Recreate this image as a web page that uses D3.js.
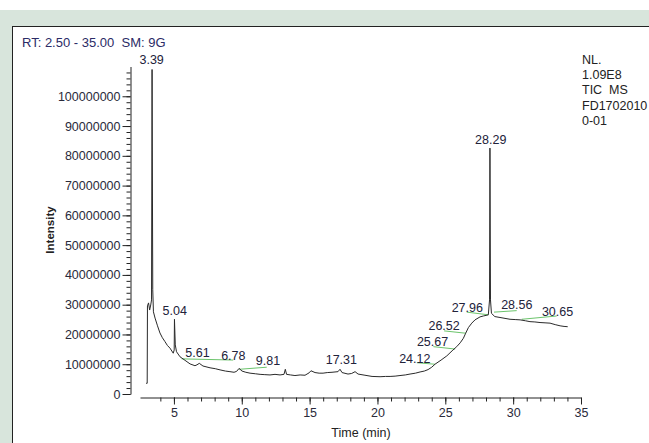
<!DOCTYPE html>
<html>
<head>
<meta charset="utf-8">
<script src="https://cdn.jsdelivr.net/npm/d3@7"></script>
<style>
  body { margin: 0; background: #fff; }
  svg text { font-family: "Liberation Sans", Arial, sans-serif; white-space: pre; }
</style>
</head>
<body>
<svg id="chart" width="649" height="443"></svg>
<script>
// retention time (min) and TIC intensity
const timeMin = [2.95, 3.03, 3.05, 3.13, 3.21, 3.29, 3.35, 3.39, 3.44, 3.49, 3.61, 3.79, 3.97, 4.15, 4.34, 4.52, 4.71, 4.95, 5.02, 5.04, 5.10, 5.19,
  5.45, 5.82, 6.19, 6.55, 6.70, 6.87, 7.14, 7.66, 8.05, 8.40, 8.80, 9.13, 9.43, 9.62, 9.80, 10.02, 10.30, 10.61, 11.00, 11.35, 11.70, 12.08,
  12.45, 12.82, 13.11, 13.21, 13.30, 13.60, 13.92, 14.30, 14.66, 14.96, 15.10, 15.40, 15.70, 15.99, 16.30, 16.65, 17.09, 17.24, 17.39,
  17.83, 18.10, 18.35, 18.57, 19.08, 19.60, 20.19, 20.60, 20.93, 21.30, 21.66, 22.05, 22.40, 22.80, 23.14, 23.45, 23.73, 24.00, 24.24,
  24.69, 25.11, 25.50, 25.84, 26.10, 26.33, 26.50, 26.70, 26.95, 27.19, 27.56, 27.80, 28.00, 28.17, 28.26, 28.29, 28.33, 28.40, 28.65,
  29.03, 29.40, 29.77, 30.15, 30.51, 30.90, 31.24, 31.60, 31.98, 32.35, 32.72, 33.10, 33.46, 33.75, 34.02];
const intensity = [3.6e6, 3.6e6, 29.6e6, 30.6e6, 28.2e6, 29.9e6, 31.6e6, 109e6, 35e6, 27.6e6, 25.5e6, 22.9e6, 20.5e6, 18.9e6, 17.6e6, 16.3e6, 15.4e6, 13.7e6, 14.8e6, 25.1e6, 16.5e6, 14.2e6,
  12.5e6, 11.3e6, 10.1e6, 9.5e6, 9.8e6, 10.3e6, 9.4e6, 8.8e6, 8.5e6, 8.1e6, 7.7e6, 7.5e6, 7.3e6, 7.6e6, 8.6e6, 7.7e6, 7.3e6, 7.0e6, 6.8e6, 6.6e6, 6.5e6, 6.4e6,
  6.6e6, 6.4e6, 6.6e6, 8.3e6, 6.6e6, 6.4e6, 6.2e6, 6.4e6, 6.3e6, 7.1e6, 7.8e6, 7.2e6, 7.0e6, 7.0e6, 7.2e6, 7.3e6, 7.5e6, 8.3e6, 7.2e6,
  6.7e6, 6.9e6, 7.5e6, 6.7e6, 6.3e6, 5.9e6, 5.8e6, 5.9e6, 5.9e6, 6.0e6, 6.2e6, 6.4e6, 6.7e6, 7.0e6, 7.4e6, 7.7e6, 8.2e6, 9.0e6, 10.0e6,
  11.4e6, 12.8e6, 14.5e6, 15.9e6, 17.2e6, 18.7e6, 20.4e6, 22.3e6, 23.8e6, 24.9e6, 25.9e6, 26.2e6, 26.4e6, 26.6e6, 31.6e6, 82.6e6, 31.6e6, 27.1e6, 26.0e6,
  25.7e6, 25.4e6, 25.1e6, 25.0e6, 24.9e6, 24.6e6, 24.3e6, 24.2e6, 24.0e6, 23.9e6, 23.8e6, 23.3e6, 22.9e6, 22.7e6, 22.6e6];

// peak annotations: label text and where it sits (time, intensity)
const peakLabels = ["3.39", "5.04", "5.61", "6.78", "9.81", "17.31", "24.12", "25.67", "26.52", "27.96", "28.29", "28.56", "30.65"];
const labelTime = [3.36, 5.06, 6.74, 9.38, 11.93, 17.34, 22.75, 24.06, 24.91, 26.62, 28.35, 30.27, 33.27];
const labelInt = [112.3e6, 28.0e6, 14.0e6, 12.8e6, 11.1e6, 11.7e6, 12.0e6, 17.6e6, 22.9e6, 29.1e6, 85.6e6, 29.9e6, 27.7e6];

// integration baselines [t0, i0, t1, i1]
const baselines = [
  [5.57, 11.8e6, 9.37, 11.4e6],
  [9.82, 8.3e6, 11.84, 9.0e6],
  [22.90, 10.5e6, 24.24, 10.0e6],
  [24.12, 15.9e6, 25.72, 15.1e6],
  [24.91, 21.2e6, 26.53, 20.4e6],
  [26.58, 27.5e6, 28.17, 26.6e6],
  [28.59, 27.5e6, 30.26, 28.0e6],
  [30.63, 25.1e6, 33.21, 26.2e6]
];

const xTicks = [5, 10, 15, 20, 25, 30, 35];
const xMinorTicks = d3.range(4, 35);
const yTicks = [0, 10e6, 20e6, 30e6, 40e6, 50e6, 60e6, 70e6, 80e6, 90e6, 100e6];
const yTickLabels = ["0", "10000000", "20000000", "30000000", "40000000", "50000000", "60000000", "70000000", "80000000", "90000000", "100000000"];
const yMinorTicks = d3.range(0, 110e6, 2e6);

const headerLines = ["NL.", "1.09E8", "TIC  MS", "FD1702010", "0-01"];

const svg = d3.select("#chart");

// page background + white panel
svg.append("rect").attr("x", 0).attr("y", 10).attr("width", 649).attr("height", 433).attr("fill", "#d8e5dc");
svg.append("rect").attr("x", 12.5).attr("y", 26.5).attr("width", 645).attr("height", 425)
  .attr("fill", "#fff").attr("stroke", "#222").attr("stroke-width", 1);

let xScale = d3.scaleLinear().domain([2.5, 35]).range([140, 581]);
let yScale = d3.scaleLinear().domain([0, 110e6]).range([394, 66.5]);

// y axis
svg.append("g")
  .attr("transform", "translate(130.5,0)")
  .call(d3.axisLeft(yScale).tickValues(yTicks).tickSize(8).tickSizeOuter(0).tickPadding(2)
    .tickFormat((d, i) => yTickLabels[i]));
svg.append("g")
  .attr("transform", "translate(130.5,0)")
  .call(d3.axisLeft(yScale).tickValues(yMinorTicks).tickSize(4).tickFormat(""))
  .select(".domain").remove();

// x axis
svg.append("g")
  .attr("transform", "translate(0,397.5)")
  .call(d3.axisBottom(xScale).tickValues(xTicks).tickSize(7).tickSizeOuter(0).tickPadding(4));
svg.append("g")
  .attr("transform", "translate(0,397.5)")
  .call(d3.axisBottom(xScale).tickValues(xMinorTicks).tickSize(4).tickFormat(""))
  .select(".domain").remove();

svg.selectAll(".tick text").attr("font-size", "12.5px").attr("fill", "#2a2a3a")
  .attr("font-family", "Liberation Sans, Arial, sans-serif");
svg.selectAll(".domain, .tick line").attr("stroke", "#222");

// axis titles
svg.append("text")
  .attr("x", 361).attr("y", 437)
  .attr("text-anchor", "middle")
  .attr("font-size", "12.5px").attr("fill", "#222")
  .text("Time (min)");
svg.append("text")
  .attr("transform", "translate(54,230)rotate(-90)")
  .attr("text-anchor", "middle")
  .attr("font-size", "11.5px").attr("font-weight", "bold").attr("fill", "#222")
  .text("Intensity");

// header texts
svg.append("text")
  .attr("x", 22).attr("y", 46.5)
  .attr("font-size", "13px").attr("fill", "#2b2b66")
  .text("RT: 2.50 - 35.00  SM: 9G");
svg.selectAll(".hdr")
  .data(headerLines)
  .enter()
  .append("text")
    .attr("class", "hdr")
    .attr("x", 582)
    .attr("y", (d, i) => 64 + i * 15.2)
    .attr("font-size", "12.5px").attr("fill", "#222")
    .text(d => d);

// integration baselines
svg.selectAll(".base")
  .data(baselines)
  .enter()
  .append("line")
    .attr("class", "base")
    .attr("x1", d => xScale(d[0])).attr("y1", d => yScale(d[1]))
    .attr("x2", d => xScale(d[2])).attr("y2", d => yScale(d[3]))
    .attr("stroke", "#6cc46c").attr("stroke-width", 1);

// chromatogram trace
let points = timeMin.map((t, i) => [t, intensity[i]]);
let valueLine = d3.line()
  .x(d => xScale(d[0]))
  .y(d => yScale(d[1]));
svg.append("path")
  .attr("d", valueLine(points))
  .attr("fill", "none")
  .attr("stroke", "#2a2a2a")
  .attr("stroke-width", 1);

// peak labels
svg.selectAll(".peak")
  .data(peakLabels)
  .enter()
  .append("text")
    .attr("class", "peak")
    .attr("x", (d, i) => xScale(labelTime[i]))
    .attr("y", (d, i) => yScale(labelInt[i]))
    .attr("dy", "0.36em")
    .attr("text-anchor", "middle")
    .attr("font-size", "12.5px").attr("fill", "#22223a")
    .text(d => d);
</script>
</body>
</html>
